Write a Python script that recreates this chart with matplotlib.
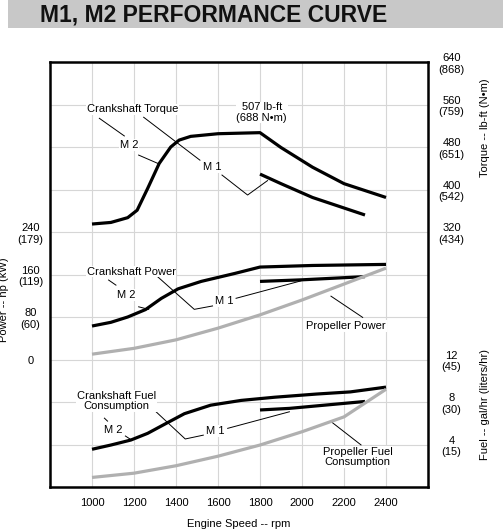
import matplotlib
matplotlib.use("Agg")
import matplotlib.pyplot as plt
from matplotlib.patches import Rectangle

plt.rcParams['font.family'] = ['Liberation Sans', 'DejaVu Sans']

# engine speed, rpm
rpm_ticks = [1000, 1200, 1400, 1600, 1800, 2000, 2200, 2400]

# crankshaft torque, lb-ft
rpm_tq_m2 = [1000, 1090, 1170, 1215, 1265, 1320, 1375, 1415, 1470, 1600, 1800, 1900, 2050, 2200, 2400]
tq_m2 = [335, 338, 347, 361, 402, 449, 480, 493, 500, 505, 507, 479, 442, 411, 385]
rpm_tq_m1 = [1800, 1900, 2050, 2300]
tq_m1 = [429, 411, 385, 352]

# power, hp
rpm_pw_m2 = [1000, 1090, 1170, 1255, 1330, 1410, 1520, 1680, 1800, 2050, 2400]
pw_m2 = [63, 70, 80, 94, 115, 133, 147, 162, 174, 177, 179]
rpm_pw_m1 = [1800, 2000, 2300]
pw_m1 = [147, 150, 156]
rpm_prop = [1000, 1200, 1400, 1600, 1800, 2000, 2200, 2400]
pw_prop = [10, 21, 37, 59, 84, 112, 142, 172]

# fuel, gal/hr
rpm_fu_m2 = [1000, 1090, 1185, 1265, 1345, 1440, 1565, 1710, 1870, 2070, 2230, 2400]
fu_m2 = [3.55, 3.95, 4.42, 5.05, 5.9, 6.9, 7.7, 8.15, 8.45, 8.75, 8.95, 9.4]
rpm_fu_m1 = [1800, 1940, 2300]
fu_m1 = [7.25, 7.4, 8.05]
fu_prop = [0.9, 1.3, 2.0, 2.9, 3.95, 5.2, 6.6, 9.2]

torque_ticks = [320, 400, 480, 560, 640]
torque_labels = ['320\n(434)', '400\n(542)', '480\n(651)', '560\n(759)', '640\n(868)']
power_ticks = [0, 80, 160, 240]
power_labels = ['0', '80\n(60)', '160\n(119)', '240\n(179)']
fuel_ticks = [4, 8, 12]
fuel_labels = ['4\n(15)', '8\n(30)', '12\n(45)']

W, H = 503, 531
fig = plt.figure(figsize=(W / 100, H / 100), dpi=100)
fig.patches.append(Rectangle((8 / W, 1 - 28 / H), 1, 28 / H, transform=fig.transFigure,
                             facecolor='#c8c8c8', edgecolor='none', zorder=0))
fig.text(40 / W, 1 - 15 / H, 'M1, M2 PERFORMANCE CURVE', fontsize=16.5, fontweight='bold',
         ha='left', va='center', color='#111111')

ax = fig.add_axes([50 / W, 44 / H, 378 / W, 425 / H])
ax.set_xlim(800, 2600)
ax.set_ylim(0, 10)
ax.set_xticks(rpm_ticks)
ax.set_yticks(range(1, 10))
ax.grid(color='#d6d6d6', lw=0.8)
ax.tick_params(axis='x', length=0, pad=8, labelsize=8)
ax.set_xlabel('Engine Speed -- rpm', fontsize=8, labelpad=8)
for s in ax.spines.values():
    s.set_linewidth(1.8)


def twin(lo, hi, ticks, labels, left=False, pad=17):
    t = ax.twinx()
    t.set_ylim(lo, hi)
    for s in t.spines.values():
        s.set_visible(False)
    if left:
        t.yaxis.tick_left()
    t.set_yticks(ticks, labels)
    t.tick_params(axis='y', length=0, labelsize=8, pad=pad)
    for lbl in t.get_yticklabels():
        lbl.set_ha('center')
        lbl.set_multialignment('center')
    return t


ax_t = twin(-160, 640, torque_ticks, torque_labels)
ax_p = twin(-240, 560, power_ticks, power_labels, left=True, pad=14)
ax_f = twin(0, 40, fuel_ticks, fuel_labels)
# twinx turns the base ticks back on
ax.tick_params(axis='y', left=False, right=False, labelleft=False, labelright=False)

blk = dict(color='black', lw=2.3, solid_capstyle='butt')
gry = dict(color='#b0b0b0', lw=2.3, solid_capstyle='butt')
ax_t.plot(rpm_tq_m2, tq_m2, **blk)
ax_t.plot(rpm_tq_m1, tq_m1, **blk)
ax_p.plot(rpm_pw_m2, pw_m2, **blk)
ax_p.plot(rpm_pw_m1, pw_m1, **blk)
ax_p.plot(rpm_prop, pw_prop, **gry)
ax_f.plot(rpm_fu_m2, fu_m2, **blk)
ax_f.plot(rpm_fu_m1, fu_m1, **blk)
ax_f.plot(rpm_prop, fu_prop, **gry)

# labels and leader lines, in grid units of the base axes
notes = [
    (1192, 8.89, 'Crankshaft Torque'), (1178, 8.05, 'M 2'), (1574, 7.52, 'M 1'),
    (1808, 8.81, '507 lb-ft\n(688 N•m)'),
    (1186, 5.07, 'Crankshaft Power'), (1165, 4.52, 'M 2'), (1630, 4.38, 'M 1'),
    (2210, 3.79, 'Propeller Power'),
    (1116, 2.02, 'Crankshaft Fuel\nConsumption'), (1101, 1.34, 'M 2'), (1587, 1.32, 'M 1'),
    (2265, 0.71, 'Propeller Fuel\nConsumption'),
]
for x, y, s in notes:
    ax.text(x, y, s, fontsize=8, ha='center', va='center', multialignment='center',
            linespacing=1.05, bbox=dict(fc='white', ec='none', pad=0.5), zorder=3)

leaders = [
    [(1035, 8.675), (1154, 8.26)], [(1222, 7.81), (1320, 7.6)],
    [(1246, 8.70), (1514, 7.69)], [(1619, 7.34), (1741, 6.87), (1836, 7.21)],
    [(1079, 4.87), (1114, 4.75)], [(1222, 4.24), (1270, 4.18)],
    [(1312, 4.95), (1487, 4.18), (1574, 4.26)], [(1686, 4.44), (1995, 4.85)],
    [(2138, 4.49), (2289, 3.99)],
    [(1059, 1.62), (1074, 1.55)], [(1159, 1.2), (1190, 1.1)],
    [(1305, 1.77), (1444, 1.13), (1530, 1.22)], [(1646, 1.38), (1940, 1.77)],
    [(2138, 1.54), (2281, 0.99)],
]
for pts in leaders:
    xs, ys = zip(*pts)
    ax.plot(xs, ys, color='black', lw=0.7, zorder=2)

fig.text(485 / W, 1 - 128 / H, 'Torque -- lb-ft (N•m)', rotation=90, fontsize=8,
         ha='center', va='center')
fig.text(485 / W, 1 - 404 / H, 'Fuel -- gal/hr (liters/hr)', rotation=90, fontsize=8,
         ha='center', va='center')
fig.text(4 / W, 1 - 300 / H, 'Power -- hp (kW)', rotation=90, fontsize=8,
         ha='center', va='center')

fig.savefig('out.png', dpi=100)
